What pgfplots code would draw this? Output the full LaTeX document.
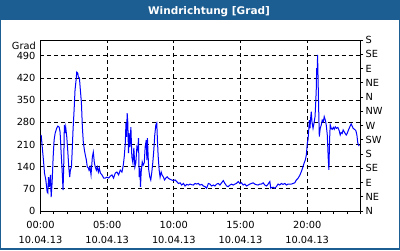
\documentclass[border=0pt]{standalone}
\usepackage{fontspec}
\setmainfont{DejaVu Sans}
\usepackage{pgfplots}
\pgfplotsset{compat=1.18}
\definecolor{titlebar}{RGB}{29,94,146}
\definecolor{lineblue}{RGB}{0,0,255}
\begin{document}
\begin{tikzpicture}[x=1pt,y=1pt]
\useasboundingbox (0,0) rectangle (400,250);
\fill[titlebar] (0,0) rectangle (400,250);
\fill[white] (1,2) rectangle (399,230);
\node[anchor=base, text=white, font=\bfseries\fontsize{10.5}{12}\selectfont] at (209,236) {Windrichtung [Grad]};
\begin{axis}[
  at={(40.5pt,39pt)}, anchor=south west,
  scale only axis, width=320pt, height=171pt,
  xmin=0, xmax=24, ymin=0, ymax=540,
  clip=false,
  xtick={0,5,10,15,20},
  xticklabels={{00:00\\10.04.13},{05:00\\10.04.13},{10:00\\10.04.13},{15:00\\10.04.13},{20:00\\10.04.13}},
  minor xtick={1,2,3,4,6,7,8,9,11,12,13,14,16,17,18,19,21,22,23,24},
  ytick={0,70,...,490},
  xmajorgrids, ymajorgrids,
  major grid style={black, dash pattern=on 4pt off 3pt, line width=1pt},
  tick align=outside,
  xtick pos=bottom, ytick pos=left,
  major tick length=3pt, minor tick length=3pt,
  ytick style={draw=none},
  xtick style={black, line width=1pt},
  minor tick style={black, line width=1pt},
  axis line style={black, line width=1pt},
  tick label style={font=\fontsize{9.8}{15}\selectfont},
  xticklabel style={align=center, yshift=-4pt},
  yticklabel style={xshift=1.5pt},
  /pgf/number format/assume math mode=true,
]
\addplot[lineblue, line width=1pt] coordinates {
(0.05,240)(0.15,193)(0.22,161)(0.30,120)(0.40,98)(0.50,60)(0.55,57)(0.60,107)(0.67,76)(0.75,114)
(0.80,44)(0.87,88)(0.95,171)(1.02,224)(1.10,246)(1.22,262)(1.30,268)(1.40,265)(1.47,249)(1.55,183)
(1.64,114)(1.69,66)(1.74,139)(1.79,272)(1.84,246)(1.89,265)(1.97,234)(2.04,193)(2.12,139)(2.19,107)
(2.24,129)(2.32,139)(2.37,183)(2.44,256)(2.52,319)(2.59,382)(2.67,414)(2.72,439)(2.79,436)(2.84,423)
(2.92,420)(2.99,382)(3.07,341)(3.14,265)(3.21,218)(3.29,193)(3.36,177)(3.44,161)(3.51,139)(3.59,136)
(3.64,129)(3.71,139)(3.79,114)(3.89,171)(3.96,186)(4.04,152)(4.11,139)(4.19,129)(4.26,139)(4.34,123)
(4.41,136)(4.49,120)(4.61,114)(4.74,104)(4.86,104)(4.98,107)(5.11,104)(5.23,110)(5.36,114)(5.48,104)
(5.61,120)(5.73,123)(5.86,114)(5.98,129)(6.11,123)(6.21,145)(6.28,171)(6.36,215)(6.41,278)(6.45,234)
(6.50,309)(6.55,278)(6.60,183)(6.65,246)(6.70,202)(6.78,265)(6.85,171)(6.93,152)(7.00,199)(7.08,139)
(7.15,152)(7.23,202)(7.30,193)(7.35,230)(7.40,107)(7.45,136)(7.50,76)(7.55,123)(7.63,155)(7.70,145)
(7.78,152)(7.85,202)(7.93,224)(7.98,161)(8.02,230)(8.07,177)(8.12,129)(8.20,107)(8.27,98)(8.35,123)
(8.42,152)(8.50,193)(8.57,240)(8.65,272)(8.72,278)(8.77,224)(8.82,177)(8.90,129)(8.97,107)(9.05,123)
(9.12,114)(9.22,107)(9.30,98)(9.40,104)(9.50,108)(9.60,103)(9.72,100)(9.84,98)(9.97,96)(10.09,98)
(10.22,93)(10.34,87)(10.47,89)(10.59,82)(10.72,87)(10.84,79)(10.97,84)(11.09,82)(11.22,85)(11.34,83)
(11.46,82)(11.59,87)(11.71,85)(11.84,87)(11.96,82)(12.09,84)(12.21,79)(12.34,77)(12.46,72)(12.59,87)
(12.71,85)(12.83,79)(12.96,82)(13.08,79)(13.21,85)(13.33,87)(13.46,82)(13.58,89)(13.71,96)(13.83,87)
(13.96,79)(14.08,77)(14.21,82)(14.33,85)(14.45,82)(14.58,85)(14.70,87)(14.83,93)(14.95,87)(15.08,89)
(15.20,82)(15.33,85)(15.45,79)(15.58,82)(15.70,85)(15.82,87)(15.95,89)(16.07,85)(16.20,83)(16.32,82)
(16.45,85)(16.57,85)(16.70,89)(16.82,82)(16.95,79)(17.07,85)(17.20,93)(17.27,72)(17.32,74)(17.45,75)
(17.57,72)(17.69,77)(17.82,85)(17.94,82)(18.07,87)(18.19,84)(18.32,87)(18.44,82)(18.57,85)(18.69,85)
(18.82,85)(18.94,87)(19.07,89)(19.19,98)(19.31,103)(19.44,112)(19.56,124)(19.69,140)(19.76,150)(19.86,161)
(19.94,177)(20.01,214)(20.06,224)(20.11,250)(20.16,287)(20.21,261)(20.26,293)(20.31,314)(20.36,282)(20.44,261)
(20.51,277)(20.59,298)(20.64,340)(20.69,392)(20.71,451)(20.76,435)(20.78,493)(20.81,435)(20.86,329)(20.91,235)
(20.98,261)(21.06,272)(21.13,287)(21.21,282)(21.28,298)(21.36,287)(21.43,272)(21.51,240)(21.58,166)(21.63,130)
(21.68,224)(21.73,272)(21.81,261)(21.88,258)(21.96,264)(22.03,258)(22.11,266)(22.20,261)(22.30,264)(22.40,254)
(22.48,240)(22.55,248)(22.63,245)(22.70,256)(22.78,250)(22.85,245)(22.93,240)(23.00,245)(23.10,256)(23.20,266)
(23.30,275)(23.38,268)(23.45,261)(23.55,258)(23.65,254)(23.73,240)(23.80,214)(23.90,205)
};
\node[anchor=east, inner sep=0pt, font=\fontsize{9.8}{15}\selectfont] at (rel axis cs:0,1) [xshift=-4.5pt, yshift=-5.7pt] {Grad};
\end{axis}
\begin{axis}[
  at={(40.5pt,39pt)}, anchor=south west,
  scale only axis, width=320pt, height=171pt,
  xmin=0, xmax=24, ymin=0, ymax=540,
  hide x axis,
  axis y line*=right,
  ytick={0,45,...,540},
  yticklabels={N,NE,E,SE,S,SW,W,NW,N,NE,E,SE,S},
  tick align=outside,
  major tick length=3pt,
  ytick style={black, line width=1pt},
  axis line style={black, line width=1pt},
  tick label style={font=\fontsize{9.8}{15}\selectfont},
  yticklabel style={xshift=-1.5pt},
]
\addplot[draw=none] coordinates {(0,0)};
\end{axis}
\end{tikzpicture}
\end{document}
